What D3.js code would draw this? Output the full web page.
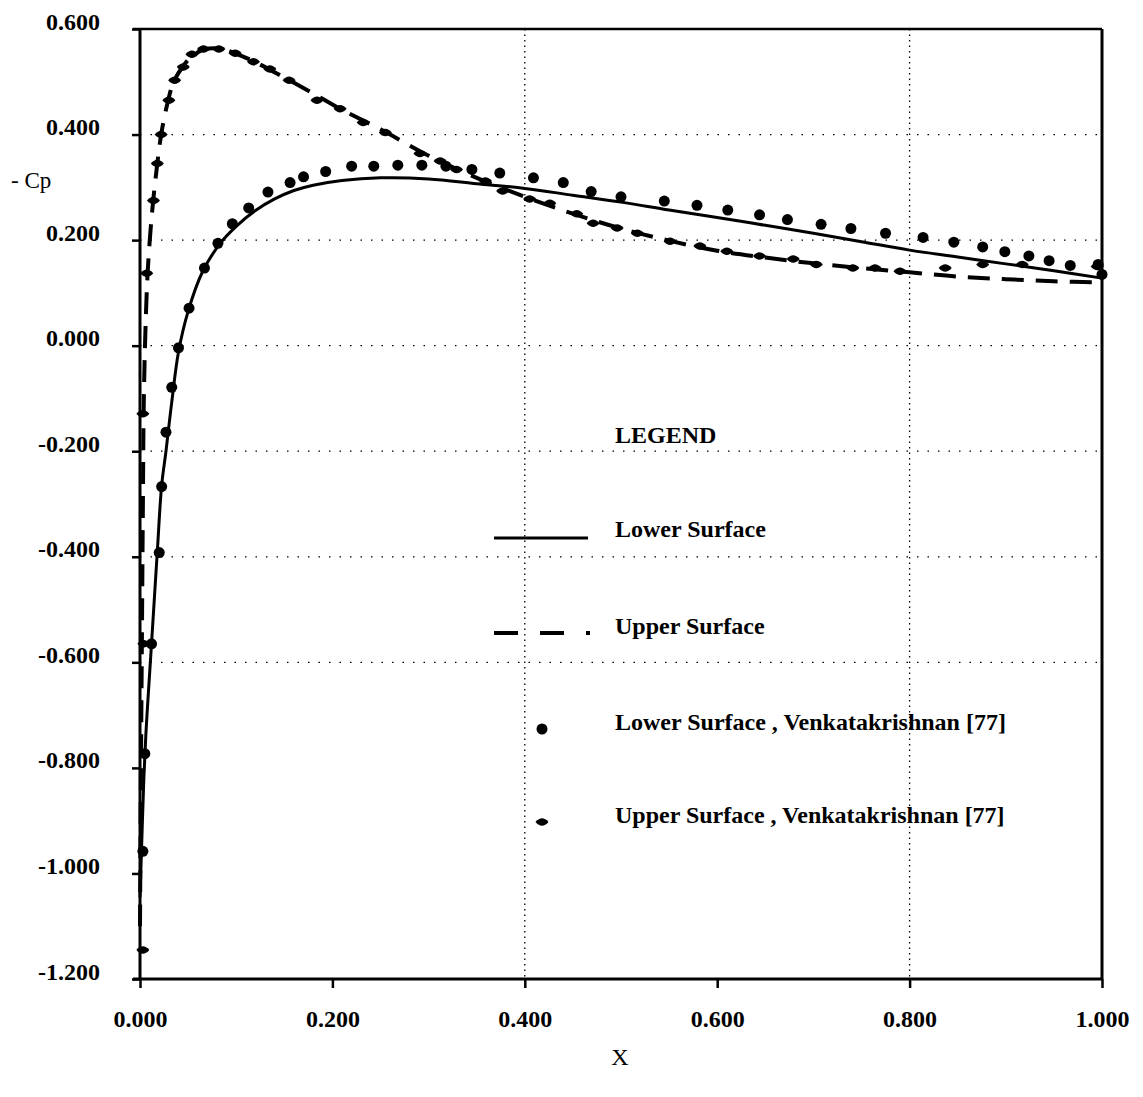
<!DOCTYPE html>
<html>
<head>
<meta charset="utf-8">
<script src="https://cdn.jsdelivr.net/npm/d3@7"></script>
<style>
  html, body { margin: 0; padding: 0; background: #fff; }
  svg { display: block; }
  text { font-family: "Liberation Serif", "Times New Roman", serif; fill: #000; }
</style>
</head>
<body>
<svg id="chart" width="1143" height="1097"></svg>
<script>
// ---------- data ----------
const xTicks = [0, 0.2, 0.4, 0.6, 0.8, 1.0];
const xTickLabels = ["0.000", "0.200", "0.400", "0.600", "0.800", "1.000"];
const yTicks = [-1.2, -1.0, -0.8, -0.6, -0.4, -0.2, 0.0, 0.2, 0.4, 0.6];
const yTickLabels = ["-1.200", "-1.000", "-0.800", "-0.600", "-0.400", "-0.200", "0.000", "0.200", "0.400", "0.600"];
const xGrid = [0.4, 0.8];
const yGrid = [-0.6, -0.4, -0.2, 0.0, 0.2, 0.4];

// Lower surface (solid line)
const lowerX  = [0.000, 0.002, 0.004, 0.006, 0.008, 0.012, 0.018, 0.0225, 0.027, 0.033, 0.040, 0.050, 0.065, 0.083, 0.100, 0.120, 0.140, 0.160, 0.180, 0.210, 0.250, 0.300, 0.350, 0.400, 0.450, 0.500, 0.550, 0.600, 0.650, 0.700, 0.750, 0.800, 0.850, 0.900, 0.950, 1.000];
const lowerCp = [-1.045, -0.93, -0.82, -0.74, -0.678, -0.564, -0.39, -0.265, -0.20, -0.107, -0.012, 0.065, 0.140, 0.193, 0.226, 0.256, 0.278, 0.294, 0.304, 0.313, 0.318, 0.316, 0.307, 0.298, 0.285, 0.272, 0.257, 0.243, 0.228, 0.213, 0.197, 0.181, 0.168, 0.155, 0.142, 0.128];

// Upper surface (dashed line)
const upperX  = [0.000, 0.001, 0.002, 0.003, 0.004, 0.006, 0.008, 0.011, 0.014, 0.018, 0.022, 0.028, 0.035, 0.045, 0.055, 0.068, 0.082, 0.100, 0.120, 0.150, 0.180, 0.210, 0.250, 0.300, 0.350, 0.400, 0.450, 0.500, 0.550, 0.600, 0.650, 0.700, 0.750, 0.800, 0.850, 0.900, 0.950, 1.000];
const upperCp = [-1.10, -0.80, -0.55, -0.30, -0.10, 0.05, 0.14, 0.22, 0.28, 0.345, 0.40, 0.455, 0.50, 0.53, 0.55, 0.562, 0.563, 0.553, 0.537, 0.508, 0.478, 0.447, 0.410, 0.360, 0.318, 0.282, 0.250, 0.222, 0.199, 0.180, 0.167, 0.156, 0.147, 0.139, 0.131, 0.126, 0.122, 0.120];

// Lower surface, Venkatakrishnan [77] (filled circles)
const venkLowerX  = [0.003, 0.005, 0.012, 0.020, 0.0225, 0.027, 0.033, 0.040, 0.051, 0.067, 0.081, 0.096, 0.113, 0.133, 0.156, 0.170, 0.193, 0.220, 0.243, 0.268, 0.293, 0.318, 0.345, 0.374, 0.409, 0.440, 0.469, 0.500, 0.545, 0.579, 0.611, 0.644, 0.673, 0.708, 0.739, 0.775, 0.814, 0.846, 0.876, 0.899, 0.924, 0.945, 0.967, 0.996, 1.000];
const venkLowerCp = [-0.958, -0.773, -0.565, -0.392, -0.267, -0.164, -0.079, -0.004, 0.071, 0.147, 0.194, 0.231, 0.261, 0.291, 0.309, 0.320, 0.330, 0.340, 0.340, 0.342, 0.342, 0.340, 0.334, 0.327, 0.318, 0.309, 0.292, 0.282, 0.274, 0.266, 0.257, 0.248, 0.239, 0.230, 0.222, 0.213, 0.205, 0.196, 0.187, 0.178, 0.170, 0.161, 0.152, 0.154, 0.135];

// Upper surface, Venkatakrishnan [77] (lens markers)
const venkUpperX  = [0.003, 0.004, 0.003, 0.007, 0.014, 0.018, 0.022, 0.030, 0.036, 0.045, 0.054, 0.066, 0.082, 0.099, 0.118, 0.135, 0.155, 0.184, 0.208, 0.232, 0.255, 0.291, 0.312, 0.329, 0.359, 0.377, 0.405, 0.426, 0.454, 0.471, 0.496, 0.517, 0.551, 0.582, 0.610, 0.644, 0.679, 0.703, 0.741, 0.764, 0.790, 0.837, 0.876, 0.917, 0.995];
const venkUpperCp = [-1.145, -0.565, -0.129, 0.137, 0.275, 0.345, 0.400, 0.465, 0.503, 0.528, 0.552, 0.562, 0.562, 0.554, 0.538, 0.524, 0.503, 0.465, 0.449, 0.423, 0.404, 0.364, 0.350, 0.334, 0.312, 0.293, 0.278, 0.270, 0.250, 0.232, 0.223, 0.213, 0.198, 0.189, 0.179, 0.170, 0.164, 0.154, 0.147, 0.147, 0.141, 0.147, 0.154, 0.154, 0.150];

const legendTitle = "LEGEND";
const legendLabels = ["Lower Surface", "Upper Surface", "Lower Surface , Venkatakrishnan [77]", "Upper Surface , Venkatakrishnan [77]"];
const yAxisTitle = "- Cp";
const xAxisTitle = "X";

// ---------- chart ----------
const svg = d3.select("#chart");
const x = d3.scaleLinear().domain([0, 1]).range([140, 1102]);
const y = d3.scaleLinear().domain([-1.2, 0.6]).range([979, 29]);

// grid
const grid = svg.append("g");
grid.selectAll("line.vg").data(xGrid).join("line")
  .attr("x1", d => x(d)).attr("x2", d => x(d))
  .attr("y1", y(0.6)).attr("y2", y(-1.2))
  .attr("stroke", "#000").attr("stroke-width", 1.3)
  .attr("stroke-dasharray", "1.5,4");
grid.selectAll("line.hg").data(yGrid).join("line")
  .attr("x1", x(0)).attr("x2", x(1))
  .attr("y1", d => y(d)).attr("y2", d => y(d))
  .attr("stroke", "#000").attr("stroke-width", 1.3)
  .attr("stroke-dasharray", "1.5,9");

// axes
const yAxis = d3.axisLeft(y).tickValues(yTicks).tickSize(8).tickPadding(32)
  .tickFormat((d, i) => yTickLabels[i]);
const gy = svg.append("g").attr("transform", `translate(${x(0)},0)`).call(yAxis);
gy.select(".domain").remove();
gy.selectAll(".tick line").attr("stroke", "#000").attr("stroke-width", 2.5);
gy.selectAll(".tick text").attr("dy", 0)
  .style("font-family", '"Liberation Serif", serif').style("font-size", "24px").style("font-weight", "bold");

const xAxis = d3.axisBottom(x).tickValues(xTicks).tickSize(9).tickPadding(0)
  .tickFormat((d, i) => xTickLabels[i]);
const gx = svg.append("g").attr("transform", `translate(0,${y(-1.2)})`).call(xAxis);
gx.select(".domain").remove();
gx.selectAll(".tick line").attr("stroke", "#000").attr("stroke-width", 2.5);
gx.selectAll(".tick text").attr("y", 48).attr("dy", 0)
  .style("font-family", '"Liberation Serif", serif').style("font-size", "24px").style("font-weight", "bold");

// frame lines
const frame = svg.append("g").attr("stroke", "#000").attr("fill", "none");
frame.append("line").attr("x1", x(0)).attr("x2", x(0)).attr("y1", y(0.6)).attr("y2", y(-1.2)).attr("stroke-width", 3);
frame.append("line").attr("x1", x(0) - 7).attr("x2", x(1)).attr("y1", y(-1.2)).attr("y2", y(-1.2)).attr("stroke-width", 3);
frame.append("line").attr("x1", x(0) - 7).attr("x2", x(1)).attr("y1", y(0.6)).attr("y2", y(0.6)).attr("stroke-width", 2.5);
frame.append("line").attr("x1", x(1)).attr("x2", x(1)).attr("y1", y(0.6)).attr("y2", y(-1.2)).attr("stroke-width", 3);

// lines
const line = d3.line().x(d => x(d[0])).y(d => y(d[1])).curve(d3.curveCatmullRom.alpha(0.5));
svg.append("path").datum(lowerX.map((v, i) => [v, lowerCp[i]]))
  .attr("d", line).attr("fill", "none").attr("stroke", "#000").attr("stroke-width", 3);
svg.append("path").datum(upperX.map((v, i) => [v, upperCp[i]]))
  .attr("d", line).attr("fill", "none").attr("stroke", "#000").attr("stroke-width", 4)
  .attr("stroke-dasharray", "22,12");

// markers
const lens = "M-6.5,0 Q0,-7.5 6.5,0 Q0,7.5 -6.5,0 Z";
svg.append("g").selectAll("circle").data(venkLowerX.map((v, i) => [v, venkLowerCp[i]])).join("circle")
  .attr("cx", d => x(d[0])).attr("cy", d => y(d[1])).attr("r", 5.5).attr("fill", "#000");
svg.append("g").selectAll("path").data(venkUpperX.map((v, i) => [v, venkUpperCp[i]])).join("path")
  .attr("transform", d => `translate(${x(d[0])},${y(d[1])})`).attr("d", lens).attr("fill", "#000");

// axis titles
svg.append("text").attr("x", 11).attr("y", 188).style("font-size", "23px").text(yAxisTitle);
svg.append("text").attr("x", 620).attr("y", 1065).attr("text-anchor", "middle")
  .style("font-size", "24px").text(xAxisTitle);

// legend
const lg = svg.append("g").style("font-size", "24px").style("font-weight", "bold");
lg.append("text").attr("x", 615).attr("y", 443).text(legendTitle);
const rowY = [537, 634, 730, 823];
lg.selectAll("text.item").data(legendLabels).join("text")
  .attr("x", 615).attr("y", (d, i) => rowY[i]).text(d => d);
lg.append("line").attr("x1", 494).attr("x2", 588).attr("y1", 538).attr("y2", 538)
  .attr("stroke", "#000").attr("stroke-width", 3);
lg.append("line").attr("x1", 494).attr("x2", 590).attr("y1", 633).attr("y2", 633)
  .attr("stroke", "#000").attr("stroke-width", 4).attr("stroke-dasharray", "24,22");
lg.append("circle").attr("cx", 542).attr("cy", 729).attr("r", 5.5).attr("fill", "#000");
lg.append("path").attr("transform", "translate(542,822)").attr("d", lens).attr("fill", "#000");
</script>
</body>
</html>
